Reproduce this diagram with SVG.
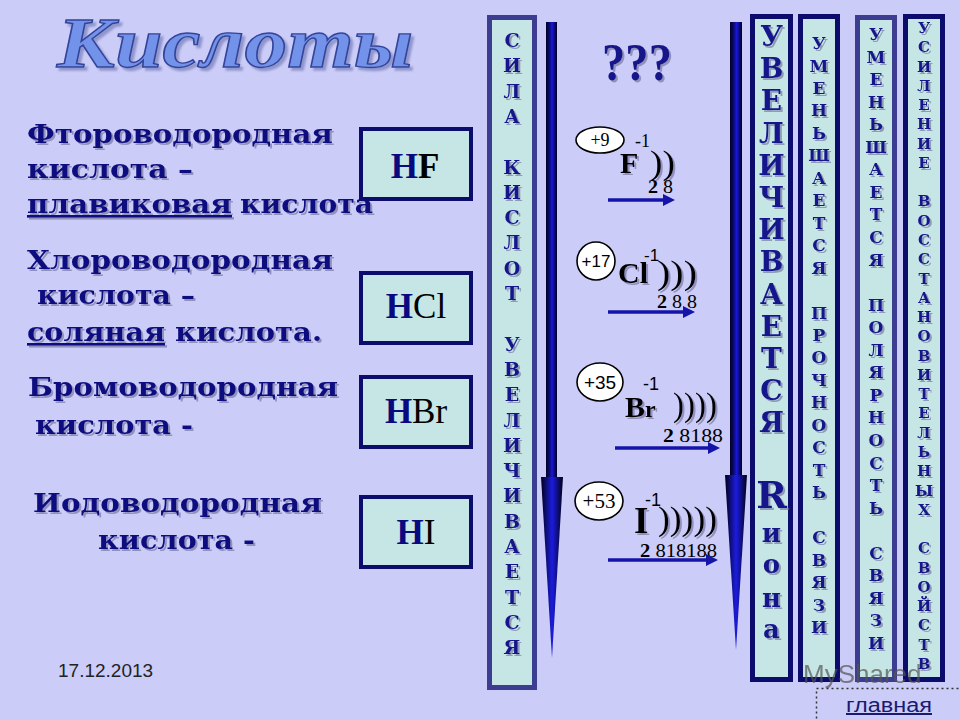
<svg xmlns="http://www.w3.org/2000/svg" width="960" height="720" viewBox="0 0 960 720">
<defs>
<filter id="sh" x="-10%" y="-10%" width="130%" height="130%"><feDropShadow dx="2" dy="2" stdDeviation="0.6" flood-color="#6a6a98" flood-opacity="0.6"/></filter>
<filter id="tsh" x="-10%" y="-20%" width="130%" height="150%"><feDropShadow dx="3" dy="3" stdDeviation="1" flood-color="#8890c8" flood-opacity="0.9"/></filter>
<linearGradient id="shaft" x1="0" y1="0" x2="1" y2="0"><stop offset="0" stop-color="#000020"/><stop offset="0.3" stop-color="#0a0a70"/><stop offset="0.55" stop-color="#1818d8"/><stop offset="0.8" stop-color="#0a0a70"/><stop offset="1" stop-color="#000020"/></linearGradient>
<linearGradient id="head" x1="0" y1="0" x2="1" y2="0"><stop offset="0" stop-color="#000018"/><stop offset="0.5" stop-color="#1c1ce0"/><stop offset="1" stop-color="#000018"/></linearGradient>
<marker id="ah" viewBox="0 0 12 12" refX="2" refY="6" markerWidth="12" markerHeight="12" markerUnits="userSpaceOnUse" orient="auto"><path d="M0,0 L12,6 L0,12 z" fill="#1414a8"/></marker>
<style>
.lt{font-family:"DejaVu Serif","Liberation Serif",serif;font-weight:bold;font-size:26px;fill:#0a0a80;filter:url(#sh)}
.box{fill:#c5e6e5;stroke:#0c0c6c;stroke-width:4}
.col{fill:#c5e6e5;stroke:#0c0c6c;stroke-width:5}
.colb{fill:#c5e6e5;stroke:#3c3c90;stroke-width:5}
.fH{font-family:"Liberation Serif",serif;font-weight:bold;font-size:35px;fill:#0a0a80}
.fE{font-family:"Liberation Serif",serif;font-size:35px;fill:#000}
.cl{font-family:"DejaVu Serif","Liberation Serif",serif;font-weight:bold;fill:#14148c;text-anchor:middle;filter:url(#sh)}
.ser{font-family:"Liberation Serif",serif;fill:#000}
.sym{font-family:"Liberation Serif",serif;fill:#000;filter:url(#sh)}
.san{font-family:"Liberation Sans",Arial,sans-serif;fill:#000}
.nuc{fill:#fff;stroke:#000;stroke-width:1.6}
.arr{stroke:#1414a8;stroke-width:3.5;fill:none}
</style>
</defs>
<rect width="960" height="720" fill="#ccccf8"/>

<g id="title">
<text x="57" y="67" font-family="Liberation Serif,serif" font-weight="bold" font-style="italic" font-size="72" textLength="356" lengthAdjust="spacingAndGlyphs" fill="#7393ea" stroke="#33449a" stroke-width="1.4" filter="url(#tsh)">Кислоты</text>
</g>

<g id="names">
<text class="lt" x="27" y="143" textLength="306" lengthAdjust="spacingAndGlyphs">Фтороводородная</text>
<text class="lt" x="27" y="178" textLength="166" lengthAdjust="spacingAndGlyphs">кислота –</text>
<text class="lt" x="27" y="213" textLength="205" lengthAdjust="spacingAndGlyphs" text-decoration="underline">плавиковая</text>
<text class="lt" x="240" y="213" textLength="133" lengthAdjust="spacingAndGlyphs">кислота</text>
<text class="lt" x="27" y="269" textLength="306" lengthAdjust="spacingAndGlyphs">Хлороводородная</text>
<text class="lt" x="37" y="304" textLength="158" lengthAdjust="spacingAndGlyphs">кислота –</text>
<text class="lt" x="27" y="341" textLength="138" lengthAdjust="spacingAndGlyphs" text-decoration="underline">соляная</text>
<text class="lt" x="175" y="341" textLength="147" lengthAdjust="spacingAndGlyphs">кислота.</text>
<text class="lt" x="28" y="396" textLength="310" lengthAdjust="spacingAndGlyphs">Бромоводородная</text>
<text class="lt" x="35" y="434" textLength="158" lengthAdjust="spacingAndGlyphs">кислота -</text>
<text class="lt" x="33" y="512" textLength="289" lengthAdjust="spacingAndGlyphs">Иодоводородная</text>
<text class="lt" x="98" y="549" textLength="157" lengthAdjust="spacingAndGlyphs">кислота -</text>
</g>

<g id="hf"><rect class="box" x="361" y="129" width="110" height="70"/><text x="415" y="178" text-anchor="middle"><tspan class="fH">H</tspan><tspan class="fE" font-weight="bold">F</tspan></text></g>
<g id="hcl"><rect class="box" x="361" y="273" width="110" height="70"/><text x="416" y="318" text-anchor="middle"><tspan class="fH">H</tspan><tspan class="fE">Cl</tspan></text></g>
<g id="hbr"><rect class="box" x="361" y="377" width="110" height="70"/><text x="416" y="423" text-anchor="middle"><tspan class="fH">H</tspan><tspan class="fE">Br</tspan></text></g>
<g id="hi"><rect class="box" x="361" y="497" width="110" height="70"/><text x="416" y="544" text-anchor="middle"><tspan class="fH">H</tspan><tspan class="fE">I</tspan></text></g>

<g id="col-sila">
<rect class="colb" x="489.5" y="17.5" width="45" height="670"/>
<text class="cl" font-size="19"><tspan x="512" y="47">С</tspan><tspan x="512" y="72.3">И</tspan><tspan x="512" y="97.6">Л</tspan><tspan x="512" y="122.9">А</tspan><tspan x="512" y="173.5">К</tspan><tspan x="512" y="198.8">И</tspan><tspan x="512" y="224.1">С</tspan><tspan x="512" y="249.4">Л</tspan><tspan x="512" y="274.7">О</tspan><tspan x="512" y="300">Т</tspan><tspan x="512" y="350.6">У</tspan><tspan x="512" y="375.9">В</tspan><tspan x="512" y="401.2">Е</tspan><tspan x="512" y="426.5">Л</tspan><tspan x="512" y="451.8">И</tspan><tspan x="512" y="477.1">Ч</tspan><tspan x="512" y="502.4">И</tspan><tspan x="512" y="527.7">В</tspan><tspan x="512" y="553">А</tspan><tspan x="512" y="578.3">Е</tspan><tspan x="512" y="603.6">Т</tspan><tspan x="512" y="628.9">С</tspan><tspan x="512" y="654.2">Я</tspan></text>
</g>

<g id="arrow-left">
<rect x="546" y="22" width="11" height="458" fill="url(#shaft)"/>
<polygon points="541,477 563,477 552,658" fill="url(#head)"/>
</g>
<g id="arrow-right">
<rect x="730" y="22" width="12" height="458" fill="url(#shaft)"/>
<polygon points="725,475 747,475 736,650" fill="url(#head)"/>
</g>

<g id="question">
<text x="602" y="80" font-family="Liberation Serif,serif" font-weight="bold" font-size="52" textLength="70" lengthAdjust="spacingAndGlyphs" fill="#14148a" filter="url(#sh)">???</text>
</g>

<g id="atom-f">
<ellipse class="nuc" cx="600" cy="140" rx="24" ry="13"/>
<text class="ser" x="600" y="146" font-size="18" text-anchor="middle">+9</text>
<text class="ser" x="635" y="147" font-size="18">-1</text>
<text class="sym" x="620" y="173" font-size="30" font-weight="bold">F</text>
<text class="sym" x="650" y="174" font-size="33" textLength="25" lengthAdjust="spacingAndGlyphs">))</text>
<text class="ser" x="648" y="193" font-size="18" textLength="25" lengthAdjust="spacingAndGlyphs"><tspan font-weight="bold">2</tspan> 8</text>
</g>
<g id="atom-cl">
<ellipse class="nuc" cx="596" cy="261" rx="19" ry="19"/>
<text class="san" x="596" y="267" font-size="17" text-anchor="middle">+17</text>
<text class="san" x="644" y="261" font-size="17">-1</text>
<text class="sym" x="618" y="283" font-size="30" font-weight="bold">Cl</text>
<text class="sym" x="657" y="284" font-size="33" textLength="40" lengthAdjust="spacingAndGlyphs">)))</text>
<text class="ser" x="657" y="308" font-size="18" textLength="40" lengthAdjust="spacingAndGlyphs"><tspan font-weight="bold">2</tspan> 8 8</text>
</g>
<g id="atom-br">
<ellipse class="nuc" cx="600" cy="382" rx="23" ry="19"/>
<text class="san" x="600" y="389" font-size="19" text-anchor="middle">+35</text>
<text class="san" x="643" y="390" font-size="18">-1</text>
<text class="sym" x="625" y="417" font-size="30" font-weight="bold">B<tspan font-size="24">r</tspan></text>
<text class="sym" x="673" y="416" font-size="34" textLength="44" lengthAdjust="spacingAndGlyphs">))))</text>
<text class="ser" x="663" y="442" font-size="18" textLength="60" lengthAdjust="spacingAndGlyphs"><tspan font-weight="bold">2</tspan> 8188</text>
</g>
<g id="atom-i">
<ellipse class="nuc" cx="599" cy="501" rx="24" ry="19"/>
<text class="ser" x="599" y="508" font-size="21" text-anchor="middle">+53</text>
<text class="san" x="645" y="506" font-size="18">-1</text>
<text class="sym" x="634" y="533" font-size="37" font-weight="bold">I</text>
<text class="sym" x="658" y="530" font-size="34" textLength="59" lengthAdjust="spacingAndGlyphs">)))))</text>
<text class="ser" x="640" y="557" font-size="18" textLength="77" lengthAdjust="spacingAndGlyphs"><tspan font-weight="bold">2</tspan> 818188</text>
</g>

<g id="connectors">
<line class="arr" x1="608" y1="200" x2="665" y2="200" marker-end="url(#ah)"/>
<line class="arr" x1="608" y1="312" x2="685" y2="312" marker-end="url(#ah)"/>
<line class="arr" x1="615" y1="448" x2="710" y2="448" marker-end="url(#ah)"/>
<line class="arr" x1="608" y1="560" x2="708" y2="560" marker-end="url(#ah)"/>
</g>

<g id="col-radius">
<rect class="col" x="752.5" y="16.5" width="38" height="663"/>
<text class="cl" font-size="28"><tspan x="771.5" y="46">У</tspan><tspan x="771.5" y="78.2">В</tspan><tspan x="771.5" y="110.4">Е</tspan><tspan x="771.5" y="142.6">Л</tspan><tspan x="771.5" y="174.8">И</tspan><tspan x="771.5" y="207">Ч</tspan><tspan x="771.5" y="239.2">И</tspan><tspan x="771.5" y="271.4">В</tspan><tspan x="771.5" y="303.6">А</tspan><tspan x="771.5" y="335.8">Е</tspan><tspan x="771.5" y="368">Т</tspan><tspan x="771.5" y="400.2">С</tspan><tspan x="771.5" y="432.4">Я</tspan><tspan x="771.5" y="508" font-size="37">R</tspan><tspan x="771.5" y="542" font-size="26">и</tspan><tspan x="771.5" y="573" font-size="26">о</tspan><tspan x="771.5" y="607" font-size="26">н</tspan><tspan x="771.5" y="638" font-size="26">а</tspan></text>
</g>

<g id="col-strength">
<rect class="col" x="800.5" y="16.5" width="37" height="663"/>
<text class="cl" font-size="17"><tspan x="819" y="49">У</tspan><tspan x="819" y="71.5">М</tspan><tspan x="819" y="93.9">Е</tspan><tspan x="819" y="116.4">Н</tspan><tspan x="819" y="138.8">Ь</tspan><tspan x="819" y="161.3">Ш</tspan><tspan x="819" y="183.8">А</tspan><tspan x="819" y="206.2">Е</tspan><tspan x="819" y="228.7">Т</tspan><tspan x="819" y="251.1">С</tspan><tspan x="819" y="273.6">Я</tspan><tspan x="819" y="318.5">П</tspan><tspan x="819" y="341">Р</tspan><tspan x="819" y="363.4">О</tspan><tspan x="819" y="385.9">Ч</tspan><tspan x="819" y="408.4">Н</tspan><tspan x="819" y="430.8">О</tspan><tspan x="819" y="453.3">С</tspan><tspan x="819" y="475.7">Т</tspan><tspan x="819" y="498.2">Ь</tspan><tspan x="819" y="543.1">С</tspan><tspan x="819" y="565.6">В</tspan><tspan x="819" y="588">Я</tspan><tspan x="819" y="610.5">З</tspan><tspan x="819" y="633">И</tspan></text>
</g>

<g id="col-polarity">
<rect class="colb" x="857.5" y="17.5" width="37" height="662"/>
<text class="cl" font-size="17"><tspan x="876" y="40">У</tspan><tspan x="876" y="62.6">М</tspan><tspan x="876" y="85.1">Е</tspan><tspan x="876" y="107.7">Н</tspan><tspan x="876" y="130.2">Ь</tspan><tspan x="876" y="152.8">Ш</tspan><tspan x="876" y="175.3">А</tspan><tspan x="876" y="197.9">Е</tspan><tspan x="876" y="220.4">Т</tspan><tspan x="876" y="243">С</tspan><tspan x="876" y="265.5">Я</tspan><tspan x="876" y="310.6">П</tspan><tspan x="876" y="333.2">О</tspan><tspan x="876" y="355.7">Л</tspan><tspan x="876" y="378.3">Я</tspan><tspan x="876" y="400.8">Р</tspan><tspan x="876" y="423.4">Н</tspan><tspan x="876" y="445.9">О</tspan><tspan x="876" y="468.5">С</tspan><tspan x="876" y="491">Т</tspan><tspan x="876" y="513.6">Ь</tspan><tspan x="876" y="558.7">С</tspan><tspan x="876" y="581.2">В</tspan><tspan x="876" y="603.8">Я</tspan><tspan x="876" y="626.3">З</tspan><tspan x="876" y="648.9">И</tspan></text>
</g>

<g id="col-reducing">
<rect class="col" x="905.5" y="16.5" width="37" height="663"/>
<text class="cl" font-size="15"><tspan x="924" y="33">У</tspan><tspan x="924" y="52.3">С</tspan><tspan x="924" y="71.5">И</tspan><tspan x="924" y="90.8">Л</tspan><tspan x="924" y="110.1">Е</tspan><tspan x="924" y="129.4">Н</tspan><tspan x="924" y="148.6">И</tspan><tspan x="924" y="167.9">Е</tspan><tspan x="924" y="206.4">В</tspan><tspan x="924" y="225.7">О</tspan><tspan x="924" y="245">С</tspan><tspan x="924" y="264.2">С</tspan><tspan x="924" y="283.5">Т</tspan><tspan x="924" y="302.8">А</tspan><tspan x="924" y="322.1">Н</tspan><tspan x="924" y="341.3">О</tspan><tspan x="924" y="360.6">В</tspan><tspan x="924" y="379.9">И</tspan><tspan x="924" y="399.1">Т</tspan><tspan x="924" y="418.4">Е</tspan><tspan x="924" y="437.7">Л</tspan><tspan x="924" y="457">Ь</tspan><tspan x="924" y="476.2">Н</tspan><tspan x="924" y="495.5">Ы</tspan><tspan x="924" y="514.8">Х</tspan><tspan x="924" y="553.3">С</tspan><tspan x="924" y="572.6">В</tspan><tspan x="924" y="591.8">О</tspan><tspan x="924" y="611.1">Й</tspan><tspan x="924" y="630.4">С</tspan><tspan x="924" y="649.6">Т</tspan><tspan x="924" y="668.9">В</tspan></text>
</g>

<g id="footer">
<text x="58" y="677" font-family="Liberation Sans,Arial,sans-serif" font-size="19" fill="#222">17.12.2013</text>
<text x="803" y="683" font-family="Liberation Sans,Arial,sans-serif" font-size="26" fill="#555" opacity="0.7">MyShared</text>
</g>
<g id="main-link">
<rect x="816.5" y="688.5" width="150" height="40" fill="none" stroke="#333" stroke-width="1.5" stroke-dasharray="2,3"/>
<text x="846" y="712" font-family="Liberation Sans,Arial,sans-serif" font-size="20" fill="#1a1a70" text-decoration="underline" textLength="86" lengthAdjust="spacingAndGlyphs">главная</text>
</g>
</svg>
